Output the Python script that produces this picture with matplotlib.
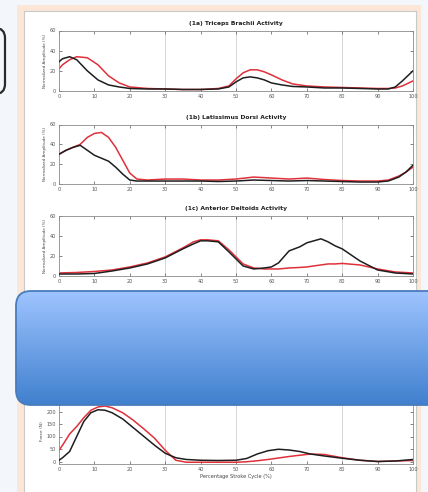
import numpy as np
import matplotlib
matplotlib.use("Agg")
import matplotlib.pyplot as plt
from matplotlib.patches import FancyBboxPatch, Rectangle

# ---------------- data ----------------
tri_x = [0, 1, 3, 5, 8, 11, 14, 17, 20, 25, 30, 35, 40, 45, 48, 50, 52, 54, 56, 58,
         60, 63, 66, 70, 75, 80, 85, 90, 93, 95, 97, 100]
tri_black = [29, 32, 34, 31, 20, 11, 6, 4, 2.5, 2, 2, 1.5, 1.5, 2, 4, 9, 13, 14, 13, 11,
             8, 6, 4.5, 4, 3, 3, 2.5, 2, 2, 4, 10, 20]
tri_red = [22, 26, 31, 34, 33, 26, 15, 8, 4, 2.5, 2, 1.5, 1.5, 2.5, 5, 12, 18, 21, 21, 19,
           16, 11, 7, 5, 4, 3.5, 3, 2.5, 2.5, 3, 5, 10]

lat_x = [0, 2, 4, 6, 8, 10, 12, 14, 16, 18, 20, 22, 25, 30, 35, 40, 45, 50, 55, 60,
         65, 70, 75, 80, 85, 90, 93, 96, 98, 100]
lat_black = [30, 34, 37, 39, 34, 29, 26, 23, 17, 10, 4, 3, 3, 3, 3, 3, 2.5, 3, 4, 3.5,
             3, 3.5, 3, 2.5, 2, 2, 3, 7, 12, 19]
lat_red = [30, 34, 37, 40, 47, 51, 52, 47, 37, 24, 11, 5, 4, 5, 5, 4, 4, 5, 7, 6,
           5, 6, 4.5, 3.5, 3, 3, 4, 8, 12, 17]

del_x = [0, 5, 10, 15, 20, 25, 30, 35, 38, 40, 42, 45, 48, 50, 52, 55, 58, 60, 62, 65,
         68, 70, 72, 74, 76, 78, 80, 85, 90, 95, 100]
del_black = [2, 2, 2.5, 5, 8, 12, 18, 27, 32, 35, 35, 34, 24, 17, 10, 7, 8, 9, 13, 25,
             29, 33, 35, 37, 34, 30, 27, 15, 6, 3, 2]
del_red = [3, 3.5, 4.5, 6, 9, 13, 19, 28, 34, 36, 36, 35, 26, 19, 12, 8, 7, 7, 7, 8,
           8.5, 9, 10, 11, 12, 12, 12.5, 11, 7, 4, 3]

frc_x = [0, 1, 3, 5, 7, 9, 11, 13, 15, 18, 21, 24, 27, 30, 33, 36, 40, 45, 50, 53,
         56, 59, 62, 65, 68, 71, 75, 80, 85, 90, 95, 100]
frc_black = [5, 15, 40, 100, 160, 195, 207, 205, 195, 170, 135, 100, 65, 33, 15, 8, 5, 4, 5, 12,
             30, 43, 49, 46, 40, 30, 22, 13, 5, 0, 2, 8]
frc_red = [45, 65, 110, 140, 175, 205, 218, 222, 215, 195, 165, 130, 93, 45, 5, -3, -3, -3, -3, -1,
           3, 8, 14, 20, 25, 30, 28, 15, 5, 0, 2, 4]

phase_lines = [30, 50, 80]
x_ticks = list(range(0, 101, 10))
emg_yticks = [0, 20, 40, 60]
force_yticks = [0, 50, 100, 150, 200, 250]

titles = ["(1a) Triceps Brachii Activity",
          "(1b) Latissimus Dorsi Activity",
          "(1c) Anterior Deltoids Activity",
          "(1d) Handle Force"]
emg_ylabel = "Normalized Amplitude (%)"
force_ylabel = "Force (N)"
xlabel = "Percentage Stroke Cycle (%)"

# ---------------- figure ----------------
W, H = 428, 492
fig = plt.figure(figsize=(W / 100, H / 100), dpi=100)
fig.patch.set_facecolor("#f3f6fa")

# background (slide frame)
bg = fig.add_axes([0, 0, 1, 1], zorder=-5)
bg.set_xlim(0, W)
bg.set_ylim(H, 0)
bg.axis("off")
bg.add_patch(Rectangle((17, 5), 404, 490, facecolor="#fbe6d8", edgecolor="none"))
bg.add_patch(Rectangle((24, 11), 392, 490, facecolor="white", edgecolor="#c9c9c9", lw=0.8))
bg.add_patch(FancyBboxPatch((-40, 28), 45, 66, boxstyle="round,pad=0,rounding_size=10",
                            facecolor="none", edgecolor="#2a2a2a", lw=1.6))

left = 59 / W
width = (413 - 59) / W
boxes = [(30.5, 91), (124.5, 184), (215.7, 276), (399, 464)]

FS = 3.6
datasets = [
    (tri_x, tri_black, tri_red),
    (lat_x, lat_black, lat_red),
    (del_x, del_black, del_red),
    (frc_x, frc_black, frc_red),
]

for i, ((top, bot), (xs, yb, yr)) in enumerate(zip(boxes, datasets)):
    ax = fig.add_axes([left, 1 - bot / H, width, (bot - top) / H])
    for p in phase_lines:
        ax.axvline(p, color="#cfcfcf", lw=0.6, zorder=0)
    ax.plot(xs, yr, color="#e0303a", lw=1.1, zorder=2)
    ax.plot(xs, yb, color="#1e1e1e", lw=1.1, zorder=3)
    ax.set_xlim(0, 100)
    ax.set_xticks(x_ticks)
    if i < 3:
        ax.set_ylim(0, 60)
        ax.set_yticks(emg_yticks)
        ax.set_ylabel(emg_ylabel, fontsize=FS - 0.6, color="#444444", labelpad=2)
    else:
        ax.set_ylim(-10, 250)
        ax.set_yticks(force_yticks)
        ax.set_ylabel(force_ylabel, fontsize=FS - 0.4, color="#444444", labelpad=2)
        ax.set_xlabel(xlabel, fontsize=FS, color="#444444", labelpad=1.5)
    ax.set_title(titles[i], fontsize=4.3, fontweight="bold", color="#222222", pad=4)
    ax.tick_params(direction="in", top=True, right=True, length=2, width=0.5,
                   labelsize=FS, colors="#555555", pad=2)
    for s in ax.spines.values():
        s.set_color("#8a8a8a")
        s.set_linewidth(0.6)

# ---------------- blue overlay box ----------------
ov = fig.add_axes([0, 0, 1, 1], zorder=20)
ov.set_xlim(0, W)
ov.set_ylim(H, 0)
ov.axis("off")
bx0, by0, bw, bh = 16, 291, 440, 114
box = FancyBboxPatch((bx0, by0), bw, bh, boxstyle="round,pad=0,rounding_size=15",
                     facecolor="none", edgecolor="#4a7cbc", lw=1.3, zorder=3)
ov.add_patch(box)
top_c = np.array([158, 196, 255]) / 255
bot_c = np.array([64, 128, 206]) / 255
t = np.linspace(0, 1, 256)[:, None]
grad = top_c[None, None, :] * (1 - t[..., None]) + bot_c[None, None, :] * t[..., None]
grad = np.repeat(grad, 2, axis=1)
im = ov.imshow(grad, extent=(bx0, bx0 + bw, by0 + bh, by0), aspect="auto",
               interpolation="bilinear", zorder=2)
im.set_clip_path(box)
ov.set_xlim(0, W)
ov.set_ylim(H, 0)

fig.savefig("out.png", dpi=100)
